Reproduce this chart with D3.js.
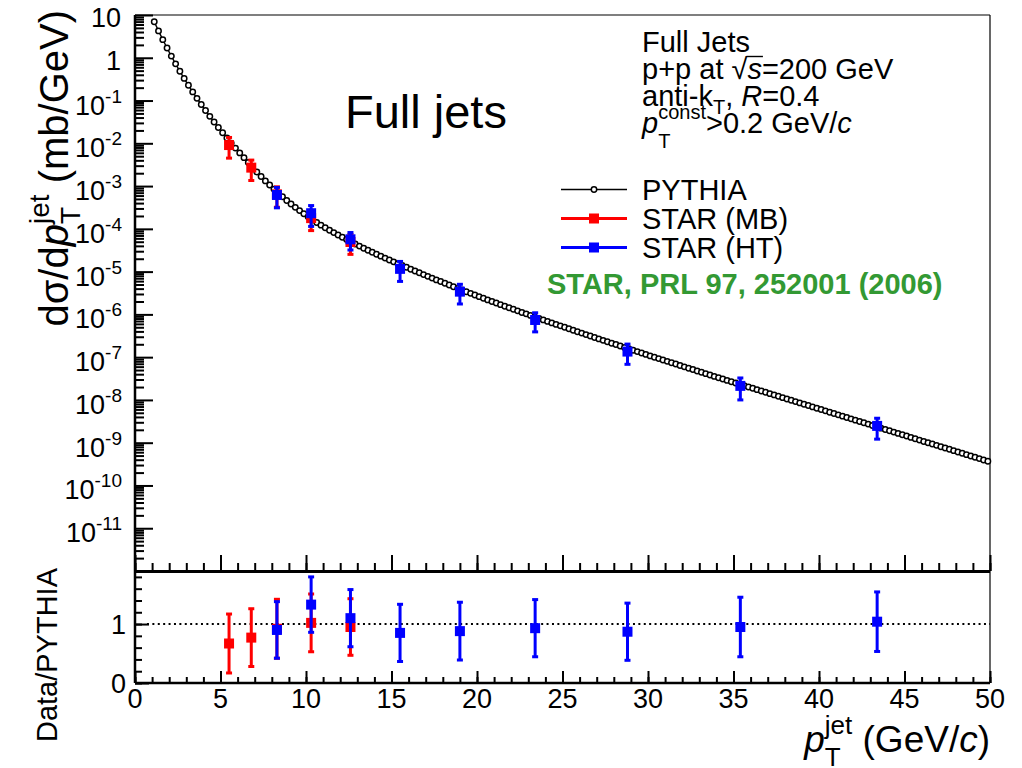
<!DOCTYPE html>
<html><head><meta charset="utf-8">
<script src="https://cdn.jsdelivr.net/npm/d3@7"></script>
<style>
body{margin:0;background:#fff}
text{font-family:"Liberation Sans",Arial,Helvetica,sans-serif;white-space:pre}
</style>
</head><body>
<svg id="c" width="1022" height="768"></svg>
<script>
// ---------------- data ----------------
const pythiaBinStart = 1.0, pythiaBinWidth = 0.25;
const pythiaXsec = [
 6.97,4.25,2.65,1.69,1.094,0.721,0.483,0.329,0.227,0.159,0.1125,0.0805,0.0583,0.0427,0.0315,0.0234,
 0.0176,0.0133,0.0101,7.73e-3,5.96e-3,4.62e-3,3.55e-3,2.74e-3,2.13e-3,1.67e-3,1.32e-3,1.06e-3,
 8.49e-4,6.87e-4,5.61e-4,4.61e-4,3.82e-4,3.18e-4,2.67e-4,2.25e-4,1.91e-4,1.63e-4,1.41e-4,1.22e-4,1.06e-4,
 9.29e-5,8.17e-5,7.19e-5,6.35e-5,5.62e-5,4.99e-5,4.44e-5,3.95e-5,3.53e-5,3.16e-5,2.84e-5,2.55e-5,2.30e-5,
 2.07e-5,1.87e-5,1.69e-5,1.53e-5,1.39e-5,1.26e-5,1.14e-5,1.03e-5,
 9.38e-6,8.51e-6,7.74e-6,7.05e-6,6.41e-6,5.85e-6,5.33e-6,4.86e-6,4.44e-6,4.06e-6,3.71e-6,3.39e-6,3.10e-6,
 2.84e-6,2.60e-6,2.38e-6,2.18e-6,2.00e-6,1.84e-6,1.69e-6,1.55e-6,1.43e-6,1.32e-6,1.21e-6,1.11e-6,1.03e-6,
 9.46e-7,8.73e-7,8.05e-7,7.43e-7,6.85e-7,6.32e-7,5.83e-7,5.40e-7,4.99e-7,4.61e-7,4.27e-7,3.94e-7,3.65e-7,
 3.37e-7,3.12e-7,2.88e-7,2.67e-7,2.47e-7,2.29e-7,2.12e-7,1.97e-7,1.82e-7,1.69e-7,1.57e-7,1.45e-7,1.35e-7,
 1.25e-7,1.16e-7,1.07e-7,
 9.95e-8,9.25e-8,8.59e-8,7.98e-8,7.41e-8,6.89e-8,6.40e-8,5.94e-8,5.52e-8,5.13e-8,4.76e-8,4.43e-8,4.11e-8,
 3.82e-8,3.55e-8,3.30e-8,3.08e-8,2.86e-8,2.67e-8,2.48e-8,2.31e-8,2.15e-8,2.00e-8,1.87e-8,1.74e-8,1.62e-8,
 1.51e-8,1.40e-8,1.31e-8,1.22e-8,1.13e-8,1.05e-8,
 9.82e-9,9.14e-9,8.51e-9,7.93e-9,7.38e-9,6.87e-9,6.40e-9,5.96e-9,5.55e-9,5.16e-9,4.81e-9,4.48e-9,4.17e-9,
 3.88e-9,3.61e-9,3.37e-9,3.13e-9,2.92e-9,2.72e-9,2.53e-9,2.36e-9,2.19e-9,2.04e-9,1.90e-9,1.77e-9,1.65e-9,
 1.53e-9,1.43e-9,1.33e-9,1.24e-9,1.15e-9,1.07e-9,1.00e-9,
 9.31e-10,8.67e-10,8.07e-10,7.52e-10,7.00e-10,6.52e-10,6.07e-10,5.65e-10,5.26e-10,4.90e-10,4.56e-10,
 4.25e-10,3.95e-10,3.68e-10
];
const mbPt       = [5.5, 6.8, 8.3, 10.3, 12.6];
const mbXsec     = [9.1e-3, 2.7e-3, 6.4e-4, 1.78e-4, 4.93e-5];
const mbXsecErr  = [4.6e-3, 1.35e-3, 3.2e-4, 8.7e-5, 2.4e-5];
const mbRatio    = [0.67, 0.77, 0.92, 1.02, 0.95];
const mbRatioErr = [0.50, 0.49, 0.50, 0.49, 0.48];

const htPt       = [8.3, 10.3, 12.6, 15.5, 19.0, 23.4, 28.8, 35.4, 43.4];
const htXsec     = [6.2e-4, 2.32e-4, 5.7e-5, 1.16e-5, 3.4e-6, 7.4e-7, 1.35e-7, 2.13e-8, 2.47e-9];
const htXsecErr  = [3.1e-4, 1.18e-4, 2.5e-5, 5.7e-6, 1.65e-6, 3.5e-7, 6.7e-8, 1.13e-8, 1.26e-9];
const htRatio    = [0.90, 1.33, 1.10, 0.85, 0.88, 0.93, 0.87, 0.95, 1.04];
const htRatioErr = [0.48, 0.47, 0.485, 0.485, 0.49, 0.485, 0.485, 0.505, 0.505];

const xMajorTicks = [0,5,10,15,20,25,30,35,40,45,50];
const yTopTickExp = [1,0,-1,-2,-3,-4,-5,-6,-7,-8,-9,-10,-11];
const yRatioTickLabels = [0,1];
const infoLines = ["Full Jets","p+p at","anti-k","const"];
const legendLabels = ["PYTHIA","STAR (MB)","STAR (HT)"];
const refText = "STAR, PRL 97, 252001 (2006)";

// ---------------- layout ----------------
const L = 135, R = 990, TT = 15, TB = 571, BT = 571, BB = 683;
const x = d3.scaleLinear().domain([0,50]).range([L,R]);
const yT = d3.scaleLog().domain([1e-12,10]).range([TB,TT]);
const yB = d3.scaleLinear().domain([0,1.9]).range([BB,BT]);
const RED = "#ff0000", BLUE = "#0000ff", GREEN = "#339933";

const svg = d3.select("#c");
svg.append("rect").attr("width",1022).attr("height",768).attr("fill","#fff");

function rich(parent, x0, y0, parts){
  const g = parent.append("g").attr("transform",`translate(${x0},${y0})`);
  let cx = 0, prevStart = 0, prevW = 0; const pos = [];
  parts.forEach(p=>{
    const sx = p.stack ? prevStart : cx;
    const t = g.append("text").attr("x",sx).attr("y",p.dy||0).attr("font-size",p.fs).text(p.t);
    if(p.it) t.attr("font-style","italic");
    if(p.b) t.attr("font-weight","bold");
    if(p.fill) t.attr("fill",p.fill);
    const w = t.node().getComputedTextLength();
    pos.push({x:sx,w});
    if(p.stack){ cx = Math.max(prevStart+prevW, sx+w); }
    else { prevStart = sx; prevW = w; cx = sx+w; }
  });
  return {g, width:cx, pos};
}

// ---------------- top panel ----------------
const topG = svg.append("g");
topG.append("line").attr("x1",L).attr("x2",R).attr("y1",TT).attr("y2",TT).attr("stroke","#000").attr("stroke-width",1.2);
topG.append("line").attr("x1",R).attr("x2",R).attr("y1",TT).attr("y2",TB).attr("stroke","#000").attr("stroke-width",1.2);

const yMajor = d3.range(-12,2).map(e=>Math.pow(10,e));
const yMinor = [];
d3.range(-12,1).forEach(e=>{ for(let k=2;k<=9;k++) yMinor.push(k*Math.pow(10,e)); });
function styleAxis(sel){ sel.select(".domain").remove(); sel.selectAll("text").remove(); sel.selectAll("line").attr("stroke","#000").attr("stroke-width",2); }
topG.append("g").attr("transform",`translate(${L},0)`).call(d3.axisLeft(yT).tickValues(yMajor).tickSize(-18)).call(styleAxis);
topG.append("g").attr("transform",`translate(${L},0)`).call(d3.axisLeft(yT).tickValues(yMinor).tickSize(-9)).call(styleAxis);
topG.append("g").attr("transform",`translate(0,${TB})`).call(d3.axisBottom(x).tickValues(xMajorTicks).tickSize(-16)).call(styleAxis);
topG.append("g").attr("transform",`translate(0,${TB})`).call(d3.axisBottom(x).tickValues(d3.range(0,51,1)).tickSize(-8)).call(styleAxis);
topG.append("line").attr("x1",L).attr("x2",L).attr("y1",TT).attr("y2",TB).attr("stroke","#000").attr("stroke-width",2.5);
topG.append("line").attr("x1",L).attr("x2",R).attr("y1",TB).attr("y2",TB).attr("stroke","#000").attr("stroke-width",2);

yTopTickExp.forEach(e=>{
  const yy = yT(Math.pow(10,e));
  if(e===1 || e===0){
    svg.append("text").attr("x",121).attr("y",yy+12).attr("text-anchor","end").attr("font-size",27).text(e===1?"10":"1");
  } else {
    const s = svg.append("text").attr("x",122).attr("y",yy+14).attr("text-anchor","end").attr("font-size",27);
    s.append("tspan").text("10");
    s.append("tspan").attr("font-size",19).attr("dy",-12).text(String(e));
  }
});

const pyData = pythiaXsec.map((v,i)=>({pt: pythiaBinStart + pythiaBinWidth*(i+0.5), v}));
topG.append("path").datum(pyData).attr("fill","none").attr("stroke","#000").attr("stroke-width",1.4)
  .attr("d", d3.line().x(d=>x(d.pt)).y(d=>yT(d.v)));
topG.selectAll("circle.py").data(pyData).join("circle").attr("class","py")
  .attr("cx",d=>x(d.pt)).attr("cy",d=>yT(d.v)).attr("r",2.7)
  .attr("fill","#fff").attr("stroke","#000").attr("stroke-width",1.5);

function drawSeries(g, pts, vals, errs, ys, color){
  const d = pts.map((p,i)=>({p, v:vals[i], e:errs[i]}));
  d.forEach(o=>{
    const xx = x(o.p), y1 = ys(o.v-o.e), y2 = ys(o.v+o.e);
    g.append("line").attr("x1",xx).attr("x2",xx).attr("y1",y1).attr("y2",y2).attr("stroke",color).attr("stroke-width",3);
    g.append("rect").attr("x",xx-3).attr("y",y1-1.5).attr("width",6).attr("height",3).attr("fill",color);
    g.append("rect").attr("x",xx-3).attr("y",y2-1.5).attr("width",6).attr("height",3).attr("fill",color);
  });
  g.selectAll(null).data(d).join("rect").attr("x",o=>x(o.p)-5).attr("y",o=>ys(o.v)-5)
    .attr("width",10).attr("height",10).attr("fill",color);
}
drawSeries(topG.append("g"), mbPt, mbXsec, mbXsecErr, yT, RED);
drawSeries(topG.append("g"), htPt, htXsec, htXsecErr, yT, BLUE);

svg.append("text").attr("x",345).attr("y",128).attr("font-size",47).text("Full jets");
const FS = 29, SS = 20;
rich(svg, 642, 52, [{t:infoLines[0],fs:FS}]);
const l2 = rich(svg, 642, 79, [{t:infoLines[1]+" ",fs:FS},{t:"\u221A",fs:FS},{t:"s",fs:FS,it:true},{t:"=200 GeV",fs:FS}]);
{ const a = l2.pos[1], b = l2.pos[2];
  l2.g.append("line").attr("x1",a.x+a.w-1).attr("x2",b.x+b.w+1).attr("y1",-22.5).attr("y2",-22.5).attr("stroke","#000").attr("stroke-width",1.4); }
rich(svg, 642, 106, [{t:infoLines[2],fs:FS},{t:"T",fs:SS,dy:8},{t:", ",fs:FS},{t:"R",fs:FS,it:true},{t:"=0.4",fs:FS}]);
rich(svg, 642, 133, [{t:"p",fs:FS,it:true},{t:infoLines[3],fs:SS,dy:-14},{t:"T",fs:SS,dy:15,stack:true},{t:">0.2 GeV/",fs:FS},{t:"c",fs:FS,it:true}]);

const legY = [189.5, 218.5, 247.5];
legendLabels.forEach((lab,i)=>{
  const col = i===0?"#000":(i===1?RED:BLUE);
  svg.append("line").attr("x1",561).attr("x2",627).attr("y1",legY[i]).attr("y2",legY[i]).attr("stroke",col).attr("stroke-width",i===0?1.5:3);
  if(i===0) svg.append("circle").attr("cx",594).attr("cy",legY[i]).attr("r",2.7).attr("fill","#fff").attr("stroke","#000").attr("stroke-width",1.5);
  else svg.append("rect").attr("x",589).attr("y",legY[i]-5).attr("width",10).attr("height",10).attr("fill",col);
  svg.append("text").attr("x",642).attr("y",legY[i]+10.5).attr("font-size",FS).text(lab);
});
svg.append("text").attr("x",547).attr("y",294).attr("font-size",29).attr("font-weight","bold").attr("fill",GREEN).text(refText);

{
  const parts = [{t:"d\u03C3/d",fs:40},{t:"p",fs:40,it:true},{t:"jet",fs:28,dy:-19},{t:"T",fs:28,dy:12,stack:true},{t:" (mb/GeV)",fs:40}];
  const tmp = rich(svg, 0, 0, parts); const w = tmp.width; tmp.g.remove();
  const gg = svg.append("g").attr("transform",`translate(68,${10+w}) rotate(-90)`);
  rich(gg, 0, 0, parts);
}

// ---------------- bottom panel ----------------
const botG = svg.append("g");
botG.append("line").attr("x1",R).attr("x2",R).attr("y1",BT).attr("y2",BB).attr("stroke","#000").attr("stroke-width",1.2);
botG.append("g").attr("transform",`translate(${L},0)`).call(d3.axisLeft(yB).tickValues(d3.range(0,1.85,0.2)).tickSize(-7)).call(styleAxis);
botG.append("g").attr("transform",`translate(${L},0)`).call(d3.axisLeft(yB).tickValues(yRatioTickLabels).tickSize(-14)).call(styleAxis);
botG.append("g").attr("transform",`translate(0,${BB})`).call(d3.axisBottom(x).tickValues(xMajorTicks).tickSize(-12)).call(styleAxis);
botG.append("g").attr("transform",`translate(0,${BB})`).call(d3.axisBottom(x).tickValues(d3.range(0,51,1)).tickSize(-6)).call(styleAxis);
botG.append("line").attr("x1",L).attr("x2",L).attr("y1",BT).attr("y2",BB).attr("stroke","#000").attr("stroke-width",2.5);
botG.append("line").attr("x1",L).attr("x2",R).attr("y1",BB).attr("y2",BB).attr("stroke","#000").attr("stroke-width",2.5);
botG.append("line").attr("x1",L).attr("x2",R).attr("y1",BT+1).attr("y2",BT+1).attr("stroke","#000").attr("stroke-width",2);

botG.append("line").attr("x1",x(0.7)).attr("x2",x(50)).attr("y1",yB(1)).attr("y2",yB(1))
  .attr("stroke","#000").attr("stroke-width",2).attr("stroke-dasharray","2,3.4");

drawSeries(botG.append("g"), mbPt, mbRatio, mbRatioErr, yB, RED);
drawSeries(botG.append("g"), htPt, htRatio, htRatioErr, yB, BLUE);

yRatioTickLabels.forEach(v=>{
  svg.append("text").attr("x",126).attr("y",yB(v)+10).attr("text-anchor","end").attr("font-size",27).text(String(v));
});
xMajorTicks.forEach(v=>{
  svg.append("text").attr("x",x(v)).attr("y",708).attr("text-anchor","middle").attr("font-size",27).text(String(v));
});

{
  const parts = [{t:"p",fs:37,it:true},{t:"jet",fs:26,dy:-18},{t:"T",fs:26,dy:14,stack:true},{t:" (GeV/",fs:37},{t:"c",fs:37,it:true},{t:")",fs:37}];
  const tmp = rich(svg, 0, 0, parts); const w = tmp.width; tmp.g.remove();
  rich(svg, 990-w, 752, parts);
}
{
  const tmp = svg.append("text").attr("font-size",29).text("Data/PYTHIA");
  const w = tmp.node().getComputedTextLength(); tmp.remove();
  svg.append("g").attr("transform",`translate(57,${568+w}) rotate(-90)`)
    .append("text").attr("font-size",29).text("Data/PYTHIA");
}
</script>
</body></html>
